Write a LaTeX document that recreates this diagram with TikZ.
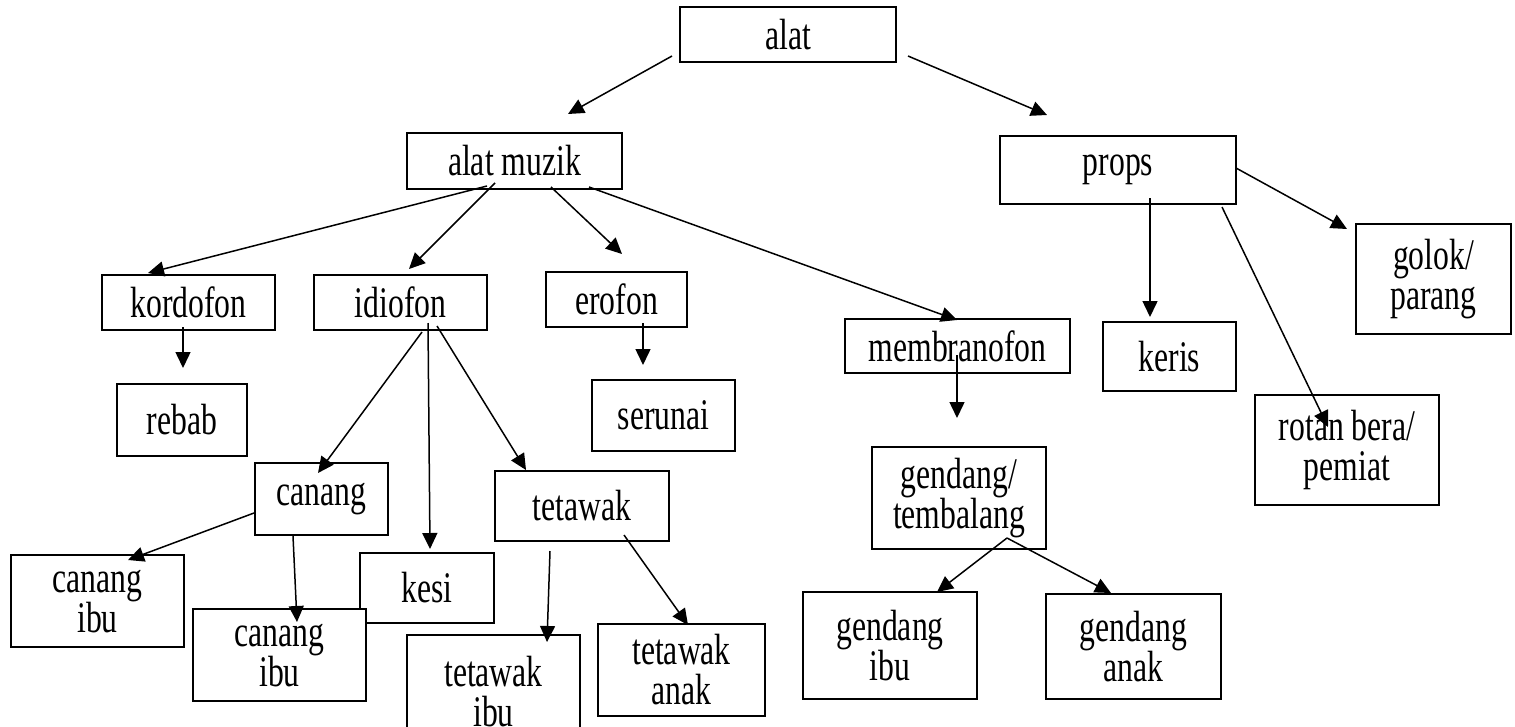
\documentclass[tikz,border=0pt]{standalone}
\usepackage{fontspec}
\setmainfont{Liberation Serif}
\newfontfamily\tallfont[FakeStretch=0.725]{Liberation Serif}
\usetikzlibrary{arrows.meta,calc}
\begin{document}
\begin{tikzpicture}[x=1pt,y=-1pt,
  box/.style={draw,fill=white,line width=1.5pt,inner sep=0pt,align=center,
    font=\tallfont\fontsize{43.7}{40}\selectfont},
  arr/.style={line width=1.5pt,-{Triangle[length=16pt,width=15pt]}}]
\useasboundingbox (0,0) rectangle (1515,726);
\clip (0,0) rectangle (1515,726);
\newcommand\mybox[6]{\node[box,minimum width=#4pt,minimum height=#5pt] (#1) at (#2,#3) {#6};}
\mybox{alat}{788}{34.5}{216}{55}{alat}
\mybox{alatmuzik}{514.5}{161}{215}{56}{alat muzik}
\mybox{props}{1118}{170}{236}{68}{props}
\mybox{kordofon}{188.5}{302.5}{173}{55}{kordofon}
\mybox{idiofon}{400.5}{302.5}{173}{55}{idiofon}
\mybox{erofon}{616.5}{299.5}{141}{55}{erofon}
\mybox{membranofon}{957.5}{346}{225}{54}{membranofon}
\mybox{keris}{1169.5}{356.5}{133}{69}{keris}
\mybox{golok}{1433.5}{279}{155}{110}{golok/\\parang}
\mybox{rebab}{182}{420}{130}{72}{rebab}
\mybox{serunai}{663.5}{415.5}{143}{71}{serunai}
\mybox{rotan}{1347}{450}{184}{110}{rotan bera/\\pemiat}
\mybox{canang}{321.5}{499}{133}{72}{canang}
\mybox{tetawak}{582}{506}{174}{70}{tetawak}
\mybox{gendangT}{959}{498}{174}{102}{gendang/\\tembalang}
\mybox{canangibu1}{97.5}{601}{173}{92}{canang\\ibu}
\mybox{kesi}{427}{588}{134}{70}{kesi}
\mybox{canangibu2}{279.5}{655}{173}{92}{canang\\ibu}
\mybox{tetawakibu}{493.5}{692}{173}{114}{tetawak\\ibu}
\mybox{tetawakanak}{681.5}{670}{167}{92}{tetawak\\anak}
\mybox{gendangibu}{890}{645.5}{174}{107}{gendang\\ibu}
\mybox{gendanganak}{1133.5}{646.5}{175}{105}{gendang\\anak}

\draw[arr] ($(alat)+(-116,21.5)$) -- ($(alatmuzik)+(53.5,-47)$);
\draw[arr] ($(alat)+(120,21.5)$) -- ($(props)+(-71,-55)$);
\draw[arr] ($(alatmuzik)+(-27.5,25)$) -- ($(kordofon)+(-40.5,-29.5)$);
\draw[arr] ($(alatmuzik)+(-19.5,22)$) -- ($(idiofon)+(8.5,-33.5)$);
\draw[arr] ($(alatmuzik)+(36.5,26)$) -- ($(erofon)+(5.5,-45.5)$);
\draw[arr] ($(alatmuzik)+(74.5,26)$) -- ($(membranofon)+(-0.5,-26)$);
\draw[arr] ($(props)+(118,-2)$) -- ($(golok)+(-86.5,-50)$);
\draw[arr] ($(props)+(32,28)$) -- ($(keris)+(-19.5,-39.5)$);
\draw[arr] ($(props)+(104,37)$) -- ($(rotan)+(-19,-23)$);
\draw[arr] ($(kordofon)+(-5.5,24.5)$) -- ($(rebab)+(1,-52)$);
\draw[arr] ($(idiofon)+(21.5,29.5)$) -- ($(canang)+(-3.5,-26)$);
\draw[arr] ($(idiofon)+(27.5,20.5)$) -- ($(kesi)+(3,-39)$);
\draw[arr] ($(idiofon)+(36.5,23.5)$) -- ($(tetawak)+(-56,-36)$);
\draw[arr] ($(erofon)+(26.5,23.5)$) -- ($(serunai)+(-20.5,-50.5)$);
\draw[arr] ($(membranofon)+(-0.5,9)$) -- ($(gendangT)+(-2,-80)$);
\draw[arr] ($(canang)+(-67.5,14)$) -- ($(canangibu1)+(30.5,-41)$);
\draw[arr] ($(canang)+(-28.5,37)$) -- ($(canangibu2)+(17.5,-33)$);
\draw[arr] ($(tetawak)+(-32,45)$) -- ($(tetawakibu)+(53.5,-50)$);
\draw[arr] ($(tetawak)+(42,29)$) -- ($(tetawakanak)+(6.5,-45)$);
\draw[arr] ($(gendangT)+(48,40)$) -- ($(gendangibu)+(47,-53.5)$);
\draw[arr] ($(gendangT)+(48,40)$) -- ($(gendanganak)+(-22.5,-53.5)$);
\end{tikzpicture}
\end{document}
